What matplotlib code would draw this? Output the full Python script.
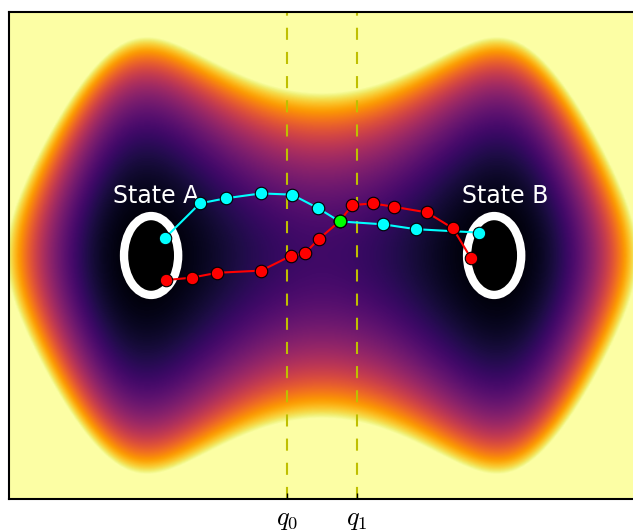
"""
Two-state toy potential with two trial paths crossing the q0 / q1 interfaces.
"""
import numpy as np
import matplotlib
matplotlib.use("Agg")
import matplotlib.pyplot as plt
from matplotlib.patches import Ellipse

plt.rcParams["mathtext.fontset"] = "cm"

# --- potential surface (double well along x, stiffer in y away from wells) ---
well_x0 = 0.56          # wells at x = -well_x0, +well_x0
well_depth_a = 1.99     # E(x) = a (x^2 - x0^2)^2
y_quad = 0.679          # G(y) = p y^2 + q y^6
y_sext = 0.848
coupling = 5.65         # V = E + G + c E G
vmin, vmax = 0.0, 1.0

# --- states ---
state_names = ["State A", "State B"]
state_x = [-0.546, 0.55]
state_y = [0.0, 0.0]
state_w = 0.173
state_h = 0.324
label_x = [-0.53, 0.585]
label_y = [0.244, 0.244]

# --- interfaces ---
q_pos = [-0.112, 0.112]
q_labels = [r"$q_0$", r"$q_1$"]

# --- paths ---
cyan_x = [-0.502, -0.390, -0.307, -0.195, -0.096, -0.012, 0.056, 0.196, 0.300, 0.503]
cyan_y = [0.071, 0.214, 0.235, 0.255, 0.250, 0.194, 0.140, 0.128, 0.108, 0.094]

red_x = [-0.499, -0.416, -0.335, -0.194, -0.100, -0.055, -0.010, 0.056,
         0.097, 0.162, 0.230, 0.335, 0.418, 0.475]
red_y = [-0.101, -0.091, -0.071, -0.062, -0.002, 0.009, 0.068, 0.140,
         0.207, 0.214, 0.200, 0.177, 0.112, -0.009]

shoot_x = [0.056]
shoot_y = [0.140]

xs = np.linspace(-1.0, 1.0, 500)
ys = np.linspace(-1.0, 1.0, 500)
X, Y = np.meshgrid(xs, ys)
E = well_depth_a * (X**2 - well_x0**2) ** 2
G = y_quad * Y**2 + y_sext * Y**6
V = E + G + coupling * E * G

fig = plt.figure(figsize=(6.33, 5.32), dpi=100)
ax = fig.add_axes([9 / 633, 33 / 532, 626 / 633, 487 / 532])

ax.imshow(V, extent=(-1, 1, -1, 1), origin="lower", cmap="inferno",
          vmin=vmin, vmax=vmax, aspect="auto", interpolation="bilinear",
          zorder=0)

for q in q_pos:
    ax.axvline(q, color="y", lw=1.5, ls=(0, (5.8, 5.8)), zorder=1)

for sx, sy in zip(state_x, state_y):
    ax.add_patch(Ellipse((sx, sy), state_w, state_h, facecolor="black",
                         edgecolor="white", lw=6, zorder=2))

for name, lx, ly in zip(state_names, label_x, label_y):
    ax.text(lx, ly, name, color="white", fontsize=17,
            ha="center", va="center", zorder=3)

ax.plot(cyan_x, cyan_y, "-o", color="cyan", lw=1.5, ms=9,
        mec="black", mew=0.8, zorder=4)
ax.plot(red_x, red_y, "-o", color="red", lw=1.5, ms=9,
        mec="black", mew=0.8, zorder=5)
ax.plot(shoot_x, shoot_y, "o", color="lime", ms=9,
        mec="black", mew=0.8, zorder=6)

ax.set_xlim(-1, 1)
ax.set_ylim(-1, 1)
ax.set_xticks(q_pos)
ax.set_xticklabels(q_labels, fontsize=19)
ax.set_yticks([])
ax.tick_params(axis="x", direction="in", length=4.5, width=1, pad=5,
               top=False)
for sp in ax.spines.values():
    sp.set_linewidth(1.5)

fig.savefig("out.png", dpi=100)
